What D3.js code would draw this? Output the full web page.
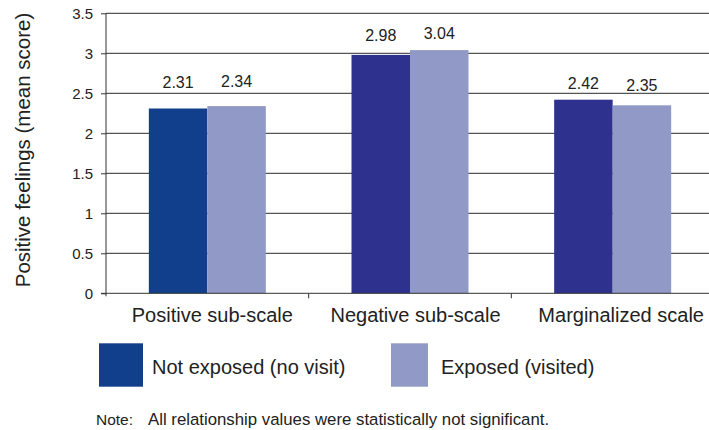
<!DOCTYPE html>
<html><head><meta charset="utf-8">
<script src="https://cdn.jsdelivr.net/npm/d3@7"></script>
<style>body{margin:0;background:#fff;} svg{display:block;font-family:"Liberation Sans",Arial,sans-serif;}</style>
</head><body><svg id="c" width="709" height="430"></svg>
<script>
const categories = ["Positive sub-scale", "Negative sub-scale", "Marginalized scale"];
const seriesNames = ["Not exposed (no visit)", "Exposed (visited)"];
const notExposed = [2.31, 2.98, 2.42];
const exposed = [2.34, 3.04, 2.35];
const yTicks = [0, 0.5, 1, 1.5, 2, 2.5, 3, 3.5];
const darkColors = ["#123f8c", "#2e318e", "#2e318e"];
const lightColor = "#919ac6";
const noteLabel = "Note:";
const noteText = "All relationship values were statistically not significant.";

(function () {
const svg = d3.select("#c");
const pLeft = 106, pRight = 714, pTop = 13.3, pBottom = 293.3;
const x = d3.scaleBand().domain(categories).range([pLeft, pRight]);
const y = d3.scaleLinear().domain([0, 3.5]).range([pBottom, pTop]);
const barW = 58.5;
const gapDark = [21, 14, 11], gapLight = [19, 11, 14];

// gridlines
svg.append("g").selectAll("line").data(yTicks.filter(d => d > 0)).join("line")
  .attr("x1", pLeft).attr("x2", 709).attr("y1", d => y(d)).attr("y2", d => y(d))
  .attr("stroke", "#555").attr("stroke-width", 1.2);

// y axis
const ya = svg.append("g").attr("transform", `translate(${pLeft},0)`)
  .call(d3.axisLeft(y).tickValues(yTicks).tickSize(5).tickPadding(8).tickFormat(d => String(d)));
ya.select(".domain").remove();
ya.selectAll(".tick line").attr("stroke", "#333");
ya.selectAll("text").attr("font-size", 15).attr("fill", "#222").attr("font-family", "Liberation Sans, Arial, sans-serif");
svg.append("line").attr("x1", pLeft).attr("x2", pLeft).attr("y1", pTop).attr("y2", pBottom + 3).attr("stroke", "#333");

// bars
const groups = categories.map((c, i) => ({c, i}));
svg.append("g").selectAll("rect").data(groups).join("rect")
  .attr("x", d => x(d.c) + x.bandwidth() / 2 - barW)
  .attr("width", barW)
  .attr("y", d => y(notExposed[d.i]))
  .attr("height", d => y(0) - y(notExposed[d.i]))
  .attr("fill", d => darkColors[d.i]);
svg.append("g").selectAll("rect").data(groups).join("rect")
  .attr("x", d => x(d.c) + x.bandwidth() / 2)
  .attr("width", barW)
  .attr("y", d => y(exposed[d.i]))
  .attr("height", d => y(0) - y(exposed[d.i]))
  .attr("fill", lightColor);

// value labels
const lab = svg.append("g").attr("font-size", 16).attr("fill", "#222").attr("text-anchor", "middle");
groups.forEach(d => {
  lab.append("text").attr("x", x(d.c) + x.bandwidth() / 2 - barW / 2).attr("y", y(notExposed[d.i]) - gapDark[d.i]).text(notExposed[d.i].toFixed(2));
  lab.append("text").attr("x", x(d.c) + x.bandwidth() / 2 + barW / 2).attr("y", y(exposed[d.i]) - gapLight[d.i]).text(exposed[d.i].toFixed(2));
});

// x axis
svg.append("line").attr("x1", pLeft - 5).attr("x2", 709).attr("y1", pBottom).attr("y2", pBottom).attr("stroke", "#333");
svg.append("g").selectAll("line").data(categories.slice(1)).join("line")
  .attr("x1", d => x(d)).attr("x2", d => x(d)).attr("y1", pBottom).attr("y2", pBottom + 5).attr("stroke", "#333");
const labShift = [5, 5.5, 8.5];
svg.append("g").selectAll("text").data(categories).join("text")
  .attr("x", (d, i) => x(d) + x.bandwidth() / 2 + labShift[i]).attr("y", 322).attr("text-anchor", "middle")
  .attr("font-size", 20).attr("fill", "#222").text(d => d);

// y title
svg.append("text").attr("transform", "translate(30,150) rotate(-90)").attr("text-anchor", "middle")
  .attr("font-size", 20.5).attr("fill", "#222").text("Positive feelings (mean score)");

// legend
const leg = [{x: 99, w: 44, tx: 152, c: darkColors[0]}, {x: 391, w: 37, tx: 441, c: lightColor}];
leg.forEach((l, i) => {
  svg.append("rect").attr("x", l.x).attr("y", 343.3).attr("width", l.w).attr("height", 43.4).attr("fill", l.c);
  svg.append("text").attr("x", l.tx).attr("y", 374).attr("font-size", 20).attr("fill", "#222").text(seriesNames[i]);
});

// note
svg.append("text").attr("x", 96).attr("y", 425).attr("font-size", 15.5).attr("fill", "#222").text(noteLabel);
svg.append("text").attr("x", 148).attr("y", 425).attr("font-size", 16.8).attr("fill", "#222").text(noteText);
})();
</script></body></html>
